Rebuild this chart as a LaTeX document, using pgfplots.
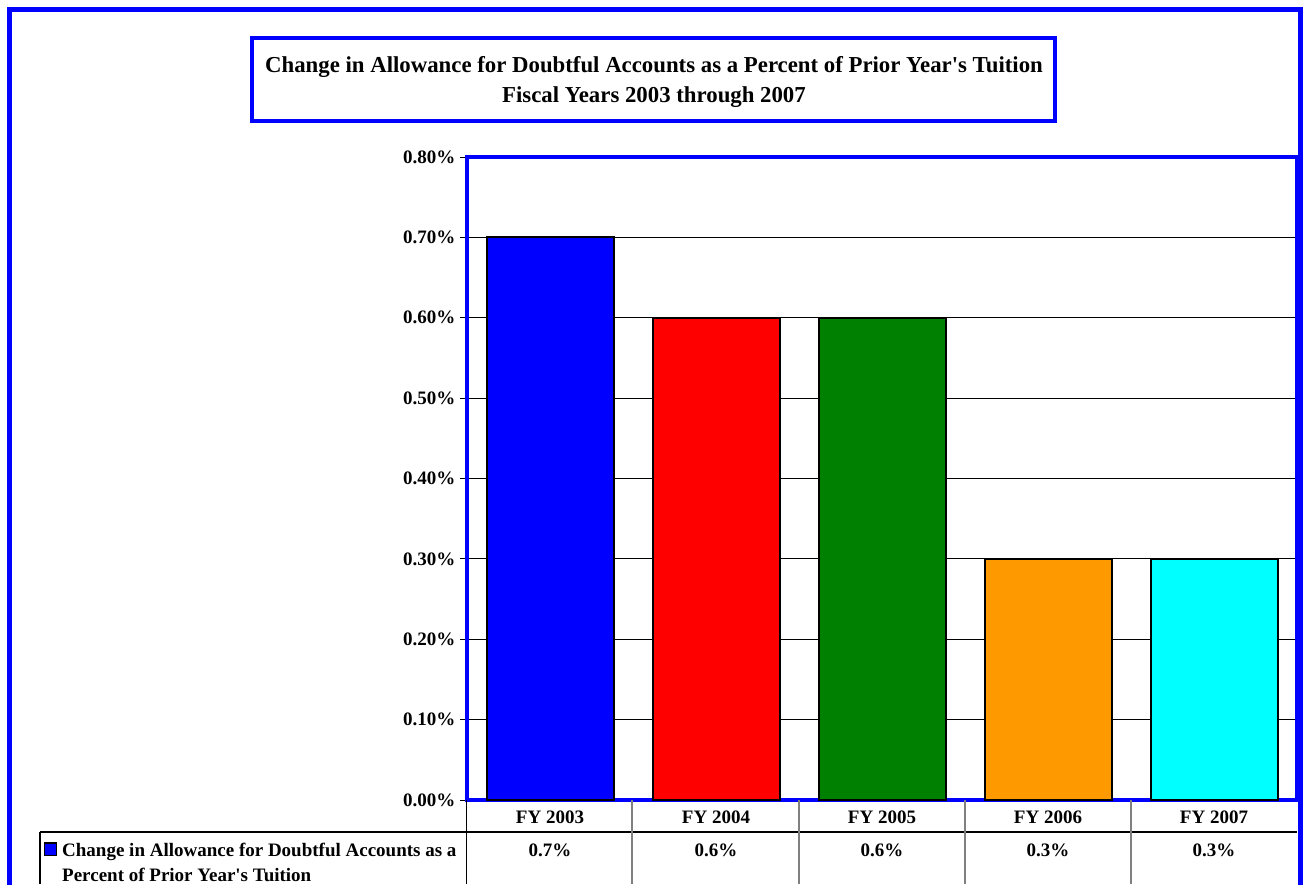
\documentclass[border=0pt]{standalone}
\usepackage{pgfplots}
\pgfplotsset{compat=1.18}
\usepackage{fontspec}
\setmainfont{Liberation Serif}
\definecolor{xlblue}{RGB}{0,0,255}
\definecolor{xlred}{RGB}{255,0,0}
\definecolor{xlgreen}{RGB}{0,128,0}
\definecolor{xlorange}{RGB}{255,153,0}
\definecolor{xlcyan}{RGB}{0,255,255}
\newcommand{\tfont}{\bfseries\fontsize{19}{23}\selectfont}
\begin{document}
\begin{tikzpicture}
\useasboundingbox (0,0) rectangle (1303pt,884pt);
\clip (0,0) rectangle (1303pt,884pt);
\begin{axis}[
  at={(467pt,84pt)}, anchor=south west,
  width=830pt, height=643pt, scale only axis,
  xmin=-0.5, xmax=4.5, ymin=0, ymax=0.8,
  ytick={0,0.1,0.2,0.3,0.4,0.5,0.6,0.7,0.8},
  yticklabels={0.00\%,0.10\%,0.20\%,0.30\%,0.40\%,0.50\%,0.60\%,0.70\%,0.80\%},
  xtick=\empty,
  ytick pos=left,
  ymajorgrids, grid style={black, line width=1pt},
  axis line style={xlblue, line width=4.5pt},
  tick style={black, line width=1pt},
  tick align=outside, major tick length=7pt,
  yticklabel style={font=\tfont, xshift=-1pt},
  ybar, bar width=127pt, bar shift=0pt,
  clip=false,
]
\addplot[fill=xlblue, draw=black, line width=2pt] coordinates {(0,0.7)};
\addplot[fill=xlred, draw=black, line width=2pt] coordinates {(1,0.6)};
\addplot[fill=xlgreen, draw=black, line width=2pt] coordinates {(2,0.6)};
\addplot[fill=xlorange, draw=black, line width=2pt] coordinates {(3,0.3)};
\addplot[fill=xlcyan, draw=black, line width=2pt] coordinates {(4,0.3)};
\end{axis}
% data table grid
\draw[black, line width=1.2pt] (40pt,52pt) -- (1297pt,52pt);
\draw[black, line width=1.2pt] (40pt,52pt) -- (40pt,0pt);
\draw[black, line width=1.2pt] (466.5pt,84pt) -- (466.5pt,0pt);
\foreach \xx in {632,799,965,1131} {\draw[gray, line width=1.2pt] (\xx pt,84pt) -- (\xx pt,0pt);}
% category labels and values
\foreach \xx/\lab/\val in {550/FY 2003/0.7\%, 716/FY 2004/0.6\%, 882/FY 2005/0.6\%, 1048/FY 2006/0.3\%, 1214/FY 2007/0.3\%} {
  \node[anchor=base, font=\tfont, inner sep=0pt] at (\xx pt,61pt) {\lab};
  \node[anchor=base, font=\tfont, inner sep=0pt] at (\xx pt,28pt) {\val};
}
% legend key
\filldraw[fill=xlblue, draw=black, line width=1.2pt] (44.5pt,41pt) rectangle (56.5pt,28.5pt);
\node[anchor=base west, font=\tfont, inner sep=0pt] at (62pt,28pt) {Change in Allowance for Doubtful Accounts as a};
\node[anchor=base west, font=\tfont, inner sep=0pt] at (62pt,3pt) {Percent of Prior Year\textquotesingle s Tuition};
% title box
\draw[xlblue, line width=4pt] (252pt,846pt) rectangle (1055pt,763pt);
\node[anchor=base, font=\bfseries\fontsize{22.8}{27}\selectfont, inner sep=0pt] at (654pt,811pt) {Change in Allowance for Doubtful Accounts as a Percent of Prior Year\textquotesingle s Tuition};
\node[anchor=base, font=\bfseries\fontsize{22.8}{27}\selectfont, inner sep=0pt] at (654pt,781pt) {Fiscal Years 2003 through 2007};
% outer frame
\draw[xlblue, line width=5pt] (9.5pt,-20pt) -- (9.5pt,874.5pt) -- (1300.5pt,874.5pt) -- (1300.5pt,-20pt);
\end{tikzpicture}
\end{document}
